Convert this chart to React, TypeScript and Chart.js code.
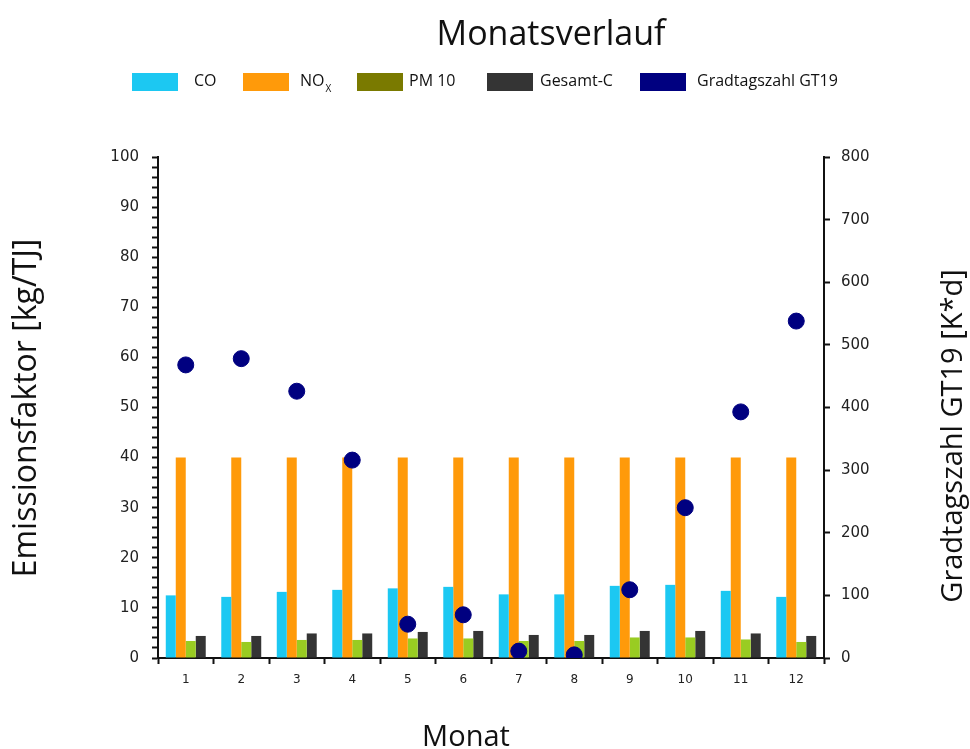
import React, { useEffect, useRef } from 'react';
import { Chart, registerables } from 'chart.js';

Chart.register(...registerables);

// ---------- data ----------
const months = ['1', '2', '3', '4', '5', '6', '7', '8', '9', '10', '11', '12'];
const coValues = [12.5, 12.2, 13.2, 13.6, 13.9, 14.2, 12.7, 12.7, 14.4, 14.6, 13.4, 12.2];
const noxValues = [40, 40, 40, 40, 40, 40, 40, 40, 40, 40, 40, 40];
const pm10Values = [3.4, 3.2, 3.6, 3.6, 3.9, 3.9, 3.4, 3.4, 4.1, 4.1, 3.7, 3.2];
const gesamtCValues = [4.4, 4.4, 4.9, 4.9, 5.2, 5.4, 4.6, 4.6, 5.4, 5.4, 4.9, 4.4];
const gradtagszahlValues = [468, 478, 426, 316, 54, 69, 11, 5, 109, 240, 393, 538];

const leftTickLabels = [0, 10, 20, 30, 40, 50, 60, 70, 80, 90, 100];
const rightTickLabels = [0, 100, 200, 300, 400, 500, 600, 700, 800];

const titleText = 'Monatsverlauf';
const xTitle = 'Monat';
const leftTitle = 'Emissionsfaktor [kg/TJ]';
const rightTitle = 'Gradtagszahl GT19 [K*d]';
const legendTexts = ['CO', 'NO', 'PM 10', 'Gesamt-C', 'Gradtagszahl GT19'];
const legendSubs = ['', 'X', '', '', ''];

// ---------- styles ----------
const COLORS = {
  co: '#1cc8f2',
  nox: '#ff9a0a',
  pm10: '#99cc22',
  gesamt: '#343434',
  grad: '#000080',
};
const legendColors = [COLORS.co, COLORS.nox, '#7a7a00', COLORS.gesamt, COLORS.grad];
const legendBoxX = [132, 243, 357, 487, 640];
const legendTextX = [194, 300, 409, 540, 697];

const TEXT_FONT = '"Open Sans", "Noto Sans", sans-serif';
const TICK_FONT = '"DejaVu Sans", Verdana, sans-serif';

const overlayPlugin = {
  id: 'overlay',
  afterDraw(chart: any) {
    const ctx = chart.ctx as CanvasRenderingContext2D;
    ctx.save();
    ctx.fillStyle = '#111';

    // title
    ctx.font = `34px ${TEXT_FONT}`;
    ctx.textAlign = 'center';
    ctx.textBaseline = 'alphabetic';
    ctx.fillText(titleText, 551, 45);

    // legend
    ctx.textAlign = 'left';
    ctx.textBaseline = 'middle';
    for (let i = 0; i < legendTexts.length; i++) {
      ctx.fillStyle = legendColors[i];
      ctx.fillRect(legendBoxX[i], 73, 46, 18);
      ctx.fillStyle = '#111';
      ctx.font = `16px ${TEXT_FONT}`;
      ctx.fillText(legendTexts[i], legendTextX[i], 81);
      if (legendSubs[i]) {
        const w = ctx.measureText(legendTexts[i]).width;
        ctx.font = `10px ${TEXT_FONT}`;
        ctx.fillText(legendSubs[i], legendTextX[i] + w + 1, 89);
      }
    }

    // axis titles
    ctx.fillStyle = '#111';
    ctx.textAlign = 'center';
    ctx.textBaseline = 'middle';
    ctx.font = `32px ${TEXT_FONT}`;
    ctx.save();
    ctx.translate(27, 408);
    ctx.rotate(-Math.PI / 2);
    ctx.fillText(leftTitle, 0, 0);
    ctx.restore();
    ctx.font = `29px ${TEXT_FONT}`;
    ctx.save();
    ctx.translate(954, 436);
    ctx.rotate(-Math.PI / 2);
    ctx.fillText(rightTitle, 0, 0);
    ctx.restore();
    ctx.textBaseline = 'alphabetic';
    ctx.fillText(xTitle, 466, 746);
    ctx.restore();
  },
};

export default function App() {
  const canvasRef = useRef<HTMLCanvasElement | null>(null);

  useEffect(() => {
    if (!canvasRef.current) return;
    const chart = new Chart(canvasRef.current, {
      type: 'bar',
      data: {
        labels: months,
        datasets: [
          {
            type: 'line',
            label: legendTexts[4],
            data: gradtagszahlValues,
            yAxisID: 'y1',
            showLine: false,
            pointRadius: 8,
            pointHoverRadius: 8,
            pointBackgroundColor: COLORS.grad,
            pointBorderColor: COLORS.grad,
            borderColor: COLORS.grad,
            backgroundColor: COLORS.grad,
            order: 0,
          } as any,
          {
            label: legendTexts[0],
            data: coValues,
            backgroundColor: COLORS.co,
            yAxisID: 'y',
            order: 1,
          },
          {
            label: 'NOx',
            data: noxValues,
            backgroundColor: COLORS.nox,
            yAxisID: 'y',
            order: 1,
          },
          {
            label: legendTexts[2],
            data: pm10Values,
            backgroundColor: COLORS.pm10,
            yAxisID: 'y',
            order: 1,
          },
          {
            label: legendTexts[3],
            data: gesamtCValues,
            backgroundColor: COLORS.gesamt,
            yAxisID: 'y',
            order: 1,
          },
        ],
      },
      options: {
        animation: false,
        responsive: true,
        maintainAspectRatio: false,
        layout: { padding: { top: 157, left: 0, right: 0, bottom: 0 } },
        datasets: {
          bar: { categoryPercentage: 0.72, barPercentage: 1.0 },
        },
        plugins: {
          legend: { display: false },
          title: { display: false },
          tooltip: { enabled: false },
        },
        scales: {
          x: {
            offset: true,
            grid: {
              offset: true,
              drawOnChartArea: false,
              drawTicks: true,
              tickLength: 6,
              tickColor: '#111',
              tickWidth: 2,
            },
            border: { display: true, color: '#111', width: 2 },
            ticks: {
              color: '#222',
              font: { family: TICK_FONT, size: 12 },
              padding: 9,
              maxRotation: 0,
              autoSkip: false,
            },
            afterFit: (s: any) => {
              s.height = 91;
            },
          },
          y: {
            position: 'left',
            min: leftTickLabels[0],
            max: leftTickLabels[leftTickLabels.length - 1],
            grid: {
              drawOnChartArea: false,
              drawTicks: true,
              tickLength: 6,
              tickColor: '#111',
              tickWidth: 2,
            },
            border: { display: true, color: '#111', width: 2 },
            ticks: {
              stepSize: 2,
              autoSkip: false,
              color: '#222',
              font: { family: TICK_FONT, size: 15 },
              padding: 13,
              callback: (v: any) => (leftTickLabels.includes(Number(v)) ? String(v) : ''),
            },
            afterFit: (s: any) => {
              s.width = 158;
            },
          },
          y1: {
            position: 'right',
            min: rightTickLabels[0],
            max: rightTickLabels[rightTickLabels.length - 1],
            grid: {
              drawOnChartArea: false,
              drawTicks: true,
              tickLength: 6,
              tickColor: '#111',
              tickWidth: 2,
            },
            border: { display: true, color: '#111', width: 2 },
            ticks: {
              stepSize: 100,
              color: '#222',
              font: { family: TICK_FONT, size: 15 },
              padding: 11,
            },
            afterFit: (s: any) => {
              s.width = 146;
            },
          },
        },
      },
      plugins: [overlayPlugin],
    });
    return () => chart.destroy();
  }, []);

  return (
    <div style={{ position: 'absolute', left: 0, top: 0, width: 970, height: 749, background: '#fff' }}>
      <canvas ref={canvasRef} />
    </div>
  );
}
